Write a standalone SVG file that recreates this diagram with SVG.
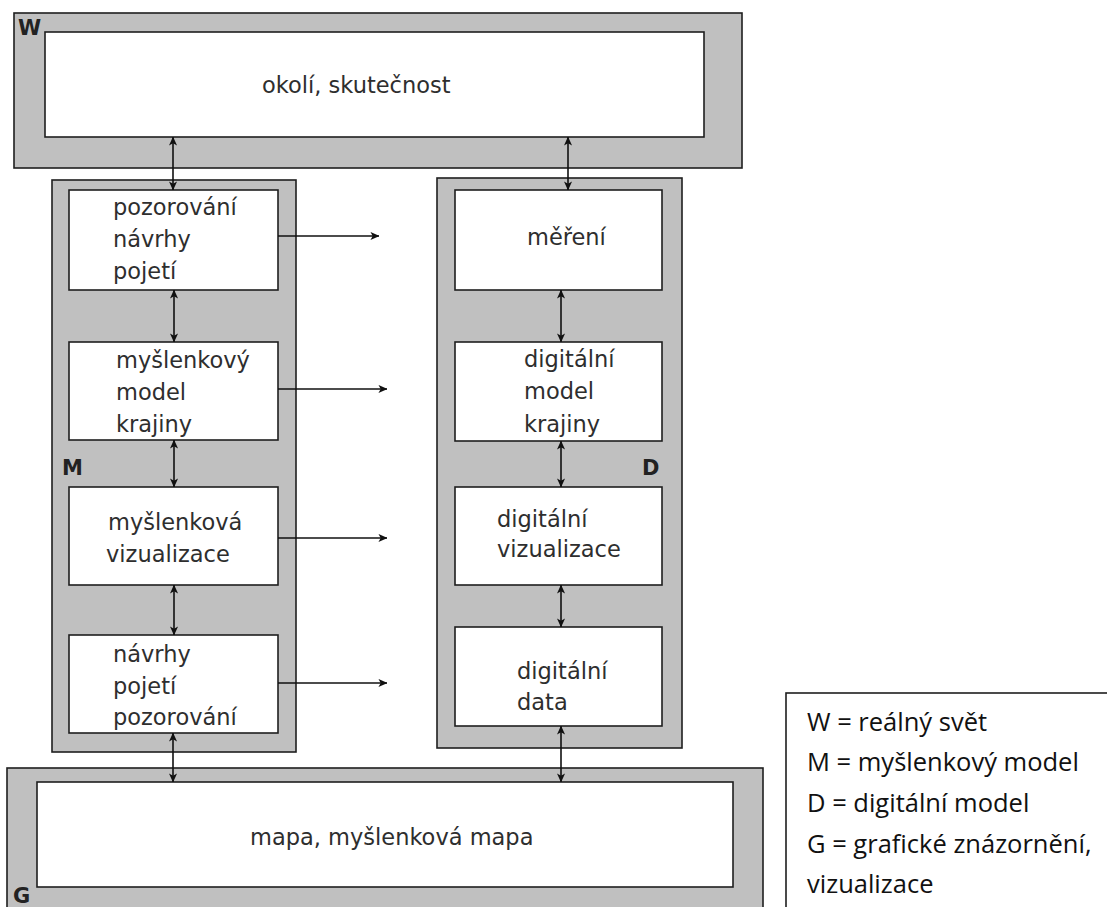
<svg xmlns="http://www.w3.org/2000/svg" width="1107" height="907" viewBox="0 0 1107 907">
  <style>
    .frame { fill: #c0c0c0; stroke: #1e1e1e; stroke-width: 1.6; }
    .box { fill: #ffffff; stroke: #1e1e1e; stroke-width: 1.6; }
    .txt { font-family: "DejaVu Sans", Verdana, sans-serif; font-size: 22.5px; fill: #2e2e2e; }
    .tag { font-family: "DejaVu Sans", Verdana, sans-serif; font-size: 21px; font-weight: bold; fill: #222222; }
    .legend { fill: #ffffff; stroke: #1e1e1e; stroke-width: 1.6; }
    .ltxt { font-family: "Open Sans", "Noto Sans", sans-serif; font-size: 25.5px; fill: #111111; }
    .link { fill: none; stroke: #111111; stroke-width: 1.6; }
  </style>
  <defs>
    <marker id="head" viewBox="0 0 10 10" refX="9.5" refY="5" markerWidth="9" markerHeight="9" markerUnits="userSpaceOnUse" orient="auto-start-reverse">
      <path d="M0,0.5 L10,5 L0,9.5 L2.5,5 z" fill="#111111"/>
    </marker>
  </defs>

  <rect width="1107" height="907" fill="#ffffff"/>

  <!-- W: real world -->
  <g id="W">
    <rect class="frame" x="14" y="13" width="728" height="155"/>
    <text class="tag" x="18" y="35">W</text>
  </g>
  <g id="okoli">
    <rect class="box" x="45" y="32" width="659" height="105"/>
    <text class="txt" x="262" y="93">okolí, skutečnost</text>
  </g>

  <!-- M: mental model column -->
  <g id="M">
    <rect class="frame" x="52" y="180" width="244" height="572"/>
    <text class="tag" x="62" y="475">M</text>
  </g>
  <g id="m-pozorovani">
    <rect class="box" x="69" y="190" width="209" height="100"/>
    <text class="txt" x="113" y="215">pozorování</text>
    <text class="txt" x="113" y="247">návrhy</text>
    <text class="txt" x="113" y="279">pojetí</text>
  </g>
  <g id="m-model">
    <rect class="box" x="69" y="342" width="209" height="98"/>
    <text class="txt" x="116" y="368">myšlenkový</text>
    <text class="txt" x="116" y="400">model</text>
    <text class="txt" x="116" y="432">krajiny</text>
  </g>
  <g id="m-vizualizace">
    <rect class="box" x="69" y="487" width="209" height="98"/>
    <text class="txt" x="108" y="530">myšlenková</text>
    <text class="txt" x="106" y="562">vizualizace</text>
  </g>
  <g id="m-navrhy">
    <rect class="box" x="69" y="635" width="209" height="98"/>
    <text class="txt" x="113" y="662">návrhy</text>
    <text class="txt" x="113" y="694">pojetí</text>
    <text class="txt" x="113" y="725">pozorování</text>
  </g>

  <!-- D: digital model column -->
  <g id="D">
    <rect class="frame" x="437" y="178" width="245" height="570"/>
    <text class="tag" x="642" y="475">D</text>
  </g>
  <g id="d-mereni">
    <rect class="box" x="455" y="190" width="207" height="100"/>
    <text class="txt" x="527" y="245">měření</text>
  </g>
  <g id="d-model">
    <rect class="box" x="455" y="342" width="207" height="99"/>
    <text class="txt" x="524" y="367">digitální</text>
    <text class="txt" x="524" y="399">model</text>
    <text class="txt" x="524" y="432">krajiny</text>
  </g>
  <g id="d-vizualizace">
    <rect class="box" x="455" y="487" width="207" height="98"/>
    <text class="txt" x="497" y="527">digitální</text>
    <text class="txt" x="497" y="557">vizualizace</text>
  </g>
  <g id="d-data">
    <rect class="box" x="455" y="627" width="207" height="99"/>
    <text class="txt" x="517" y="679">digitální</text>
    <text class="txt" x="517" y="710">data</text>
  </g>

  <!-- G: graphic representation -->
  <g id="G">
    <rect class="frame" x="7" y="768" width="756" height="160"/>
    <text class="tag" x="13" y="903">G</text>
  </g>
  <g id="mapa">
    <rect class="box" x="37" y="782" width="696" height="105"/>
    <text class="txt" x="250" y="845">mapa, myšlenková mapa</text>
  </g>

  <!-- legend -->
  <g id="legend">
    <rect class="legend" x="786" y="693" width="340" height="240"/>
    <text class="ltxt" x="807" y="731">W = reálný svět</text>
    <text class="ltxt" x="807" y="771">M = myšlenkový model</text>
    <text class="ltxt" x="807" y="812">D = digitální model</text>
    <text class="ltxt" x="807" y="853">G = grafické znázornění,</text>
    <text class="ltxt" x="807" y="893">vizualizace</text>
  </g>

  <!-- connectors -->
  <g id="connectors">
    <line class="link" x1="173" y1="137" x2="173" y2="190" marker-start="url(#head)" marker-end="url(#head)"/>
    <line class="link" x1="174" y1="290" x2="174" y2="342" marker-start="url(#head)" marker-end="url(#head)"/>
    <line class="link" x1="174" y1="440" x2="174" y2="487" marker-start="url(#head)" marker-end="url(#head)"/>
    <line class="link" x1="174" y1="585" x2="174" y2="635" marker-start="url(#head)" marker-end="url(#head)"/>
    <line class="link" x1="173" y1="733" x2="173" y2="782" marker-start="url(#head)" marker-end="url(#head)"/>

    <line class="link" x1="568" y1="137" x2="568" y2="190" marker-start="url(#head)" marker-end="url(#head)"/>
    <line class="link" x1="561" y1="290" x2="561" y2="342" marker-start="url(#head)" marker-end="url(#head)"/>
    <line class="link" x1="561" y1="441" x2="561" y2="487" marker-start="url(#head)" marker-end="url(#head)"/>
    <line class="link" x1="561" y1="585" x2="561" y2="627" marker-start="url(#head)" marker-end="url(#head)"/>
    <line class="link" x1="561" y1="726" x2="561" y2="782" marker-start="url(#head)" marker-end="url(#head)"/>

    <line class="link" x1="278" y1="236" x2="379" y2="236" marker-end="url(#head)"/>
    <line class="link" x1="278" y1="389" x2="387" y2="389" marker-end="url(#head)"/>
    <line class="link" x1="278" y1="538" x2="387" y2="538" marker-end="url(#head)"/>
    <line class="link" x1="278" y1="683" x2="387" y2="683" marker-end="url(#head)"/>
  </g>
</svg>
